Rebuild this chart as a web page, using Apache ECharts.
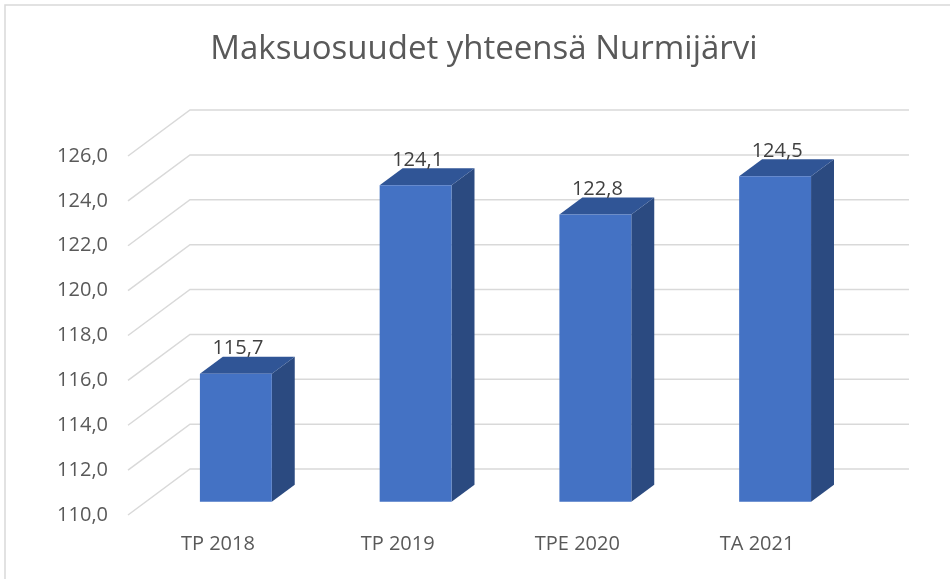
<!DOCTYPE html>
<html>
<head>
<meta charset="utf-8">
<script src="https://cdn.jsdelivr.net/npm/echarts@6/dist/echarts.min.js"></script>
<style>
  html, body { margin: 0; padding: 0; background: #ffffff; }
  #chart { width: 950px; height: 579px; }
</style>
</head>
<body>
<div id="chart"></div>
<script>
// Maksuosuudet yhteensä, Nurmijärvi
const categories = ['TP 2018', 'TP 2019', 'TPE 2020', 'TA 2021'];
const values = [115.7, 124.1, 122.8, 124.5];
const yMin = 110;
const yMax = 126;
const yStep = 2;
const yTicks = [110, 112, 114, 116, 118, 120, 122, 124, 126];

// perspective: offset from the front plane to the back wall
const DEPTH_X = 62, DEPTH_Y = -46;
// bars sit part-way into the depth and have their own depth
const BAR_POS = 0.29;
const BAR_DEPTH = 0.37;

const FONT = '"Open Sans", "Noto Sans", sans-serif';
const fmt = v => v.toFixed(1).replace('.', ',');

const chart = echarts.init(document.getElementById('chart'), null, { renderer: 'canvas' });

function renderGrid(params, api) {
  const cs = params.coordSys;
  const y = api.coord([0, api.value(1)])[1];
  const x0 = cs.x, x1 = cs.x + cs.width;
  return {
    type: 'polyline',
    shape: { points: [[x0, y], [x0 + DEPTH_X, y + DEPTH_Y], [x1 + DEPTH_X, y + DEPTH_Y]] },
    style: { stroke: '#d9d9d9', lineWidth: 1.5, fill: null },
    silent: true
  };
}

function renderBar(params, api) {
  const idx = api.value(0);
  const v = api.value(1);
  const top = api.coord([idx, v]);
  const base = api.coord([idx, yMin]);
  const bw = api.size([1, 0])[0] * 0.4;
  const ox = BAR_POS * DEPTH_X, oy = BAR_POS * DEPTH_Y;
  const sx = BAR_DEPTH * DEPTH_X, sy = BAR_DEPTH * DEPTH_Y;
  const xl = top[0] - bw / 2 + ox, xr = top[0] + bw / 2 + ox;
  const yt = top[1] + oy, yb = base[1] + oy;
  return {
    type: 'group',
    children: [
      { type: 'polygon', shape: { points: [[xr, yt], [xr + sx, yt + sy], [xr + sx, yb + sy], [xr, yb]] },
        style: { fill: '#2b4a80' } },
      { type: 'polygon', shape: { points: [[xl, yt], [xr, yt], [xr + sx, yt + sy], [xl + sx, yt + sy]] },
        style: { fill: '#305596' } },
      { type: 'rect', shape: { x: xl, y: yt, width: bw, height: yb - yt },
        style: { fill: '#4472c4' } },
      { type: 'text', x: top[0] + ox + 2, y: yt + sy + 2,
        style: { text: fmt(v), align: 'center', verticalAlign: 'bottom',
                 fill: '#404040', font: '20px ' + FONT } }
    ]
  };
}

const option = {
  backgroundColor: '#ffffff',
  animation: false,
  graphic: [
    { type: 'polyline', shape: { points: [[5, 579], [5, 5], [950, 5]] },
      style: { stroke: '#d9d9d9', lineWidth: 1.5, fill: null }, silent: true },
    { type: 'text', x: 484, y: 50,
      style: { text: 'Maksuosuudet yhteensä Nurmijärvi', align: 'center', verticalAlign: 'middle',
               fill: '#595959', font: '33px ' + FONT } }
  ],
  grid: { left: 128, right: 103, top: 156, bottom: 64 },
  xAxis: {
    type: 'category',
    data: categories,
    axisLine: { show: false },
    axisTick: { show: false },
    splitLine: { show: false },
    axisLabel: { color: '#595959', fontSize: 20, fontFamily: FONT, margin: 19 }
  },
  yAxis: {
    type: 'value',
    min: yMin,
    max: yMax,
    interval: yStep,
    axisLine: { show: false },
    axisTick: { show: false },
    splitLine: { show: false },
    axisLabel: { color: '#595959', fontSize: 20, fontFamily: FONT, margin: 20, formatter: fmt }
  },
  series: [
    {
      type: 'custom',
      name: 'grid',
      renderItem: renderGrid,
      encode: { x: 0, y: 1 },
      data: yTicks.map(t => [0, t]),
      silent: true,
      z: 1
    },
    {
      type: 'custom',
      name: 'Maksuosuudet',
      renderItem: renderBar,
      encode: { x: 0, y: 1 },
      data: values.map((v, i) => [i, v]),
      z: 2
    }
  ]
};

chart.setOption(option);
</script>
</body>
</html>
